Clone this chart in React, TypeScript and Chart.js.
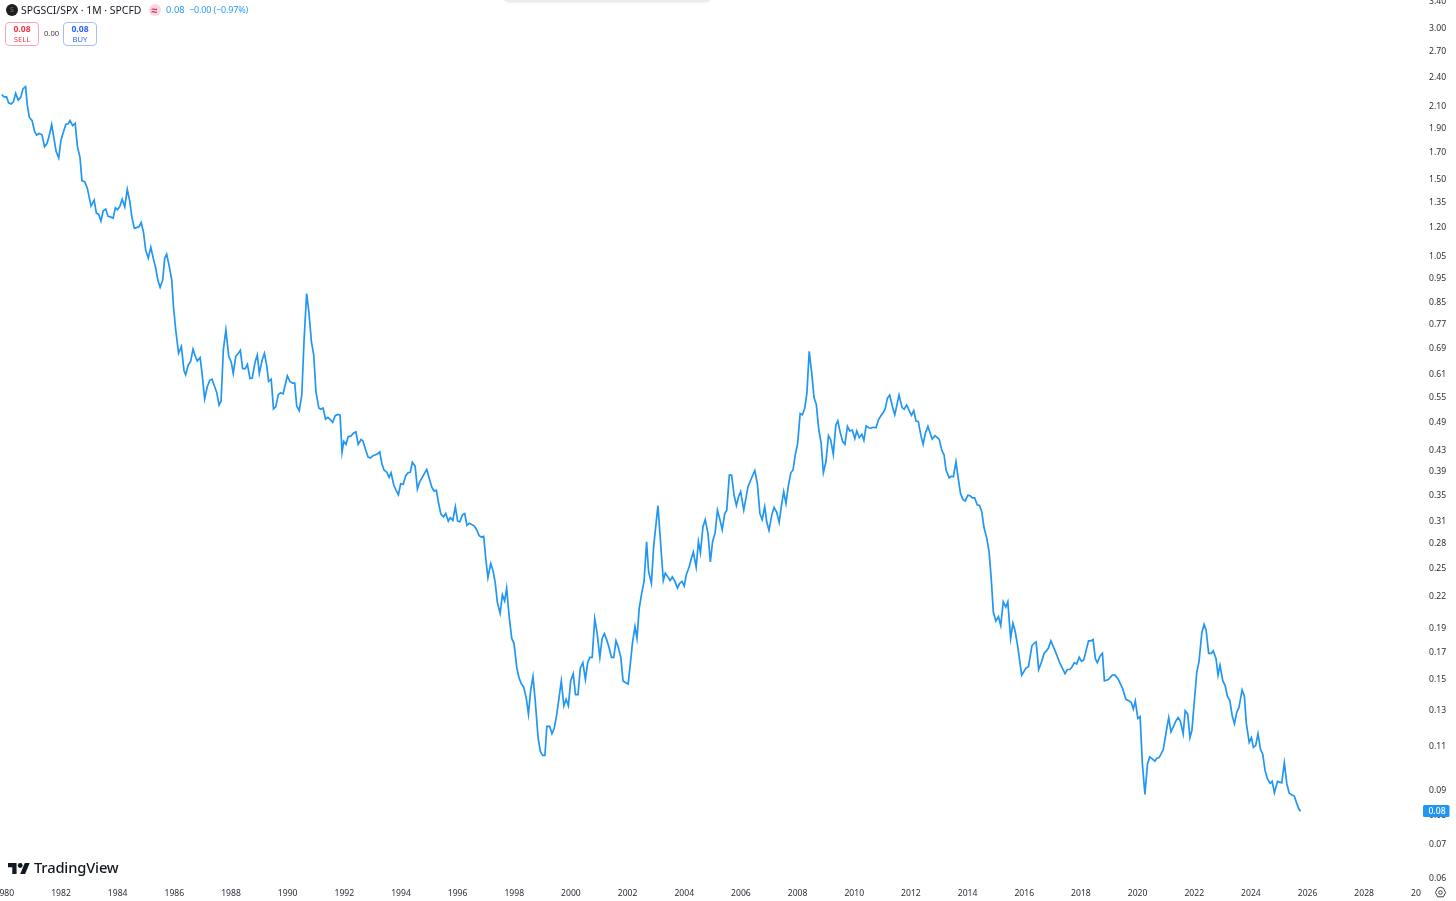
import React, { useEffect, useRef } from "react";
import { Chart, registerables } from "chart.js";

Chart.register(...registerables);

const years1 = [
  1979.91,1979.99,1980.08,1980.15,1980.24,1980.32,1980.40,1980.49,1980.58,1980.66,
  1980.75,1980.81,1980.88,1980.98,1981.07,1981.14,1981.23,1981.33,1981.42,1981.51,
  1981.59,1981.67,1981.75,1981.83,1981.92,1982.00,1982.08,1982.17,1982.25,1982.32,
  1982.41,1982.50,1982.58,1982.67,1982.74,1982.84,1982.93,1983.06,1983.17,1983.25,
  1983.33,1983.41,1983.49,1983.58,1983.66,1983.75,1983.84,1983.92,1984.00,1984.08,
  1984.16,1984.25,1984.34,1984.43,1984.50,1984.59,1984.68,1984.76,1984.83,1984.91,
  1984.99,1985.08,1985.17,1985.26,1985.34,1985.42,1985.50,1985.59,1985.66,1985.73,
  1985.82,1985.91,1985.97,1986.05,1986.15,1986.25,1986.34,1986.40,1986.49,1986.58,
];
const ratio1 = [
  2.202,2.18,2.18,2.12,2.11,2.13,2.216,2.148,2.176,2.264,
  2.285,2.10,1.985,1.953,1.856,1.828,1.842,1.83,1.733,1.76,
  1.828,1.919,1.80,1.694,1.645,1.787,1.85,1.919,1.925,1.955,
  1.91,1.93,1.733,1.65,1.48,1.475,1.43,1.318,1.355,1.275,
  1.27,1.23,1.29,1.30,1.257,1.254,1.246,1.308,1.296,1.318,
  1.36,1.313,1.424,1.345,1.254,1.19,1.195,1.20,1.222,1.17,
  1.076,1.037,1.09,1.035,0.992,0.937,0.907,0.937,1.035,1.056,
  1.00,0.937,0.829,0.745,0.669,0.69,0.619,0.606,0.633,0.646,
];

const years2 = [
  1986.66,1986.74,1986.81,1986.91,1986.98,1987.07,1987.16,1987.25,1987.33,1987.41,
  1987.50,1987.58,1987.65,1987.73,1987.82,1987.92,1988.01,1988.08,1988.17,1988.26,
  1988.33,1988.41,1988.50,1988.58,1988.67,1988.75,1988.85,1988.93,1989.00,1989.10,
  1989.18,1989.26,1989.33,1989.42,1989.50,1989.58,1989.67,1989.75,1989.84,1989.91,
  1989.99,1990.08,1990.17,1990.25,1990.32,1990.41,1990.50,1990.58,1990.67,1990.75,
  1990.84,1990.92,1991.00,1991.10,1991.17,1991.25,1991.34,1991.42,1991.51,1991.59,
  1991.68,1991.77,1991.85,1991.92,1991.98,1992.06,1992.14,1992.23,1992.32,1992.41,
  1992.49,1992.59,1992.66,1992.74,1992.84,1992.92,1993.00,1993.08,1993.17,1993.25,
  1993.33,1993.40,1993.50,1993.58,1993.65,1993.75,1993.83,1993.91,1993.99,1994.08,
  1994.17,1994.25,1994.33,1994.40,1994.50,1994.58,1994.66,1994.74,1994.83,1994.91,
];
const ratio2 = [
  0.682,0.66,0.646,0.656,0.61,0.542,0.573,0.591,0.594,0.577,
  0.558,0.527,0.537,0.679,0.745,0.661,0.642,0.61,0.66,0.669,
  0.678,0.624,0.623,0.636,0.596,0.597,0.642,0.664,0.61,0.648,
  0.669,0.633,0.588,0.594,0.518,0.523,0.553,0.558,0.555,0.577,
  0.603,0.588,0.583,0.583,0.525,0.514,0.553,0.711,0.881,0.81,
  0.705,0.664,0.56,0.52,0.517,0.52,0.494,0.498,0.493,0.487,
  0.502,0.505,0.504,0.424,0.446,0.44,0.456,0.457,0.463,0.466,
  0.44,0.45,0.447,0.431,0.415,0.413,0.417,0.419,0.421,0.425,
  0.402,0.391,0.387,0.378,0.386,0.364,0.356,0.349,0.367,0.366,
  0.381,0.386,0.387,0.405,0.398,0.358,0.37,0.377,0.385,0.392,
];

const years3 = [
  1995.00,1995.09,1995.17,1995.25,1995.33,1995.41,1995.50,1995.58,1995.67,1995.74,
  1995.83,1995.92,1996.00,1996.08,1996.17,1996.25,1996.33,1996.41,1996.51,1996.59,
  1996.67,1996.76,1996.84,1996.92,1997.00,1997.07,1997.17,1997.25,1997.33,1997.40,
  1997.50,1997.58,1997.66,1997.73,1997.82,1997.91,1997.99,1998.09,1998.17,1998.25,
  1998.33,1998.42,1998.50,1998.58,1998.66,1998.74,1998.84,1998.92,1999.00,1999.08,
  1999.15,1999.25,1999.33,1999.41,1999.50,1999.58,1999.66,1999.75,1999.83,1999.91,
  1999.99,2000.08,2000.16,2000.25,2000.33,2000.42,2000.51,2000.59,2000.67,2000.75,
  2000.84,2000.92,2001.02,2001.10,2001.18,2001.26,2001.34,2001.43,2001.51,2001.59,
  2001.67,2001.76,2001.84,2001.92,2002.02,2002.10,2002.17,2002.26,2002.33,2002.41,
  2002.50,2002.58,2002.67,2002.74,2002.84,2002.92,2003.07,2003.26,2003.33,2003.42,
  2003.50,2003.58,2003.67,2003.76,2003.84,2003.92,2004.00,2004.07,2004.17,2004.25,
  2004.32,2004.42,2004.50,2004.57,2004.66,2004.74,2004.84,2004.92,2005.00,2005.09,
  2005.17,2005.26,
];
const ratio3 = [
  0.376,0.361,0.355,0.356,0.335,0.319,0.315,0.32,0.309,0.314,
  0.31,0.33,0.309,0.308,0.318,0.32,0.303,0.306,0.304,0.302,
  0.297,0.289,0.287,0.288,0.258,0.238,0.254,0.246,0.232,0.213,
  0.202,0.22,0.214,0.227,0.199,0.18,0.176,0.157,0.15,0.146,
  0.144,0.137,0.127,0.142,0.151,0.135,0.114,0.107,0.105,0.105,
  0.12,0.12,0.116,0.119,0.127,0.137,0.148,0.132,0.136,0.132,
  0.148,0.153,0.139,0.139,0.157,0.161,0.149,0.161,0.165,0.165,
  0.197,0.185,0.165,0.18,0.184,0.179,0.173,0.165,0.165,0.178,
  0.173,0.165,0.148,0.147,0.146,0.161,0.176,0.19,0.18,0.207,
  0.222,0.234,0.281,0.245,0.232,0.275,0.332,0.235,0.243,0.239,
  0.235,0.239,0.234,0.227,0.232,0.234,0.229,0.241,0.25,0.26,
  0.268,0.25,0.281,0.267,0.301,0.311,0.291,0.256,0.281,0.293,
  0.325,0.311,
];

const years4 = [
  2005.34,2005.43,2005.50,2005.59,2005.67,2005.76,2005.84,2005.92,2005.99,2006.10,
  2006.25,2006.42,2006.49,2006.58,2006.67,2006.75,2006.84,2006.91,2006.99,2007.09,
  2007.17,2007.26,2007.35,2007.43,2007.51,2007.59,2007.67,2007.76,2007.84,2007.92,
  2008.00,2008.09,2008.17,2008.25,2008.33,2008.41,2008.50,2008.58,2008.66,2008.75,
  2008.83,2008.91,2009.00,2009.09,2009.17,2009.26,2009.35,2009.42,2009.50,2009.59,
  2009.67,2009.76,2009.84,2009.93,2010.02,2010.09,2010.18,2010.27,2010.34,2010.42,
  2010.51,2010.59,2010.67,2010.77,2010.85,2010.94,2011.02,2011.09,2011.17,2011.25,
  2011.35,2011.43,2011.51,2011.58,2011.69,2011.76,2011.85,2011.94,2012.02,2012.10,
  2012.18,2012.26,2012.35,2012.43,2012.51,2012.60,2012.68,2012.75,2012.85,2012.93,
  2013.00,2013.09,2013.17,2013.24,2013.35,2013.43,2013.50,2013.59,2013.68,2013.75,
  2013.84,2013.92,2014.01,2014.09,2014.17,2014.25,2014.34,2014.42,2014.50,2014.58,
  2014.68,2014.76,2014.83,2014.91,
];
const ratio4 = [
  0.297,0.32,0.325,0.382,0.382,0.348,0.332,0.346,0.354,0.325,
  0.362,0.382,0.39,0.367,0.32,0.311,0.33,0.308,0.296,0.318,
  0.329,0.322,0.307,0.332,0.354,0.335,0.362,0.386,0.391,0.42,
  0.441,0.507,0.504,0.519,0.558,0.675,0.61,0.546,0.529,0.47,
  0.443,0.386,0.406,0.458,0.449,0.42,0.481,0.49,0.466,0.446,
  0.44,0.478,0.468,0.47,0.452,0.468,0.454,0.461,0.448,0.479,
  0.475,0.474,0.476,0.475,0.492,0.502,0.509,0.518,0.544,0.552,
  0.523,0.504,0.529,0.552,0.521,0.517,0.527,0.514,0.503,0.514,
  0.49,0.489,0.459,0.44,0.463,0.478,0.463,0.451,0.458,0.454,
  0.45,0.428,0.419,0.391,0.377,0.38,0.379,0.406,0.373,0.351,
  0.341,0.339,0.348,0.347,0.344,0.344,0.333,0.332,0.323,0.30,
  0.285,0.268,0.239,0.203,
];

const years5 = [
  2015.00,2015.09,2015.17,2015.26,2015.35,2015.42,2015.52,2015.60,2015.68,2015.76,
  2015.91,2016.06,2016.15,2016.27,2016.35,2016.42,2016.51,2016.62,2016.70,2016.78,
  2016.85,2016.94,2017.09,2017.27,2017.44,2017.52,2017.61,2017.69,2017.77,2017.85,
  2017.94,2018.02,2018.10,2018.18,2018.27,2018.35,2018.43,2018.51,2018.58,2018.68,
  2018.76,2018.83,2018.97,2019.11,2019.21,2019.32,2019.47,2019.59,2019.70,2019.78,
  2019.85,2019.92,2020.01,2020.09,2020.17,2020.26,2020.35,2020.43,2020.51,2020.61,
  2020.68,2020.76,2020.84,2020.91,2021.01,2021.10,2021.18,2021.27,2021.35,2021.43,
  2021.51,2021.61,2021.68,2021.77,2021.85,2021.92,2022.01,2022.09,2022.17,2022.27,
  2022.35,2022.42,2022.51,2022.60,2022.67,2022.77,2022.84,2022.91,2023.01,2023.09,
  2023.17,2023.26,2023.34,2023.42,2023.50,2023.58,2023.69,2023.77,2023.84,2023.94,
  2024.02,2024.09,2024.17,2024.25,2024.34,2024.42,2024.50,2024.58,2024.68,2024.75,
  2024.83,2024.94,2025.09,2025.18,2025.27,2025.35,2025.45,2025.53,2025.62,2025.70,
  2025.76,
];
const ratio5 = [
  0.195,0.199,0.191,0.213,0.208,0.213,0.18,0.193,0.186,0.175,
  0.152,0.157,0.158,0.174,0.176,0.177,0.156,0.162,0.168,0.17,
  0.172,0.178,0.17,0.16,0.153,0.156,0.156,0.158,0.161,0.16,
  0.165,0.162,0.163,0.17,0.178,0.178,0.179,0.164,0.161,0.166,
  0.168,0.148,0.149,0.152,0.152,0.149,0.143,0.136,0.135,0.134,
  0.13,0.135,0.1245,0.1255,0.101,0.0878,0.101,0.1043,0.1035,0.1023,
  0.1037,0.104,0.106,0.108,0.117,0.125,0.117,0.12,0.123,0.125,
  0.123,0.116,0.129,0.127,0.114,0.118,0.136,0.154,0.162,0.185,
  0.192,0.187,0.168,0.168,0.17,0.164,0.152,0.159,0.148,0.145,
  0.138,0.135,0.126,0.1215,0.128,0.131,0.142,0.138,0.1217,0.1115,
  0.114,0.109,0.11,0.116,0.108,0.1055,0.098,0.0944,0.0923,0.0932,
  0.0884,0.0932,0.0926,0.1015,0.0921,0.0883,0.0875,0.0871,0.0842,0.0819,
  0.0813,
];

const years = [...years1, ...years2, ...years3, ...years4, ...years5];
const ratio = [...ratio1, ...ratio2, ...ratio3, ...ratio4, ...ratio5];

const xTicks = [
  1980,1982,1984,1986,1988,1990,1992,1994,1996,1998,2000,2002,2004,
  2006,2008,2010,2012,2014,2016,2018,2020,2022,2024,2026,2028,2030,
];
const priceTicks = [
  3.4,3.0,2.7,2.4,2.1,1.9,1.7,1.5,1.35,1.2,1.05,0.95,0.85,0.77,0.69,0.61,0.55,
  0.49,0.43,0.39,0.35,0.31,0.28,0.25,0.22,0.19,0.17,0.15,0.13,0.11,0.09,0.08,0.07,0.06,
];

const LINE = "#2196f3";
const FONT = '"Noto Sans", sans-serif';
const TEXT = "#2a2e39";

export default function App() {
  const ref = useRef<HTMLCanvasElement | null>(null);

  useEffect(() => {
    const badge = {
      id: "lastPrice",
      afterDraw(chart: any) {
        const { ctx, scales } = chart;
        const y = scales.y.getPixelForValue(ratio[ratio.length - 1]);
        ctx.save();
        ctx.fillStyle = "#ffffff";
        ctx.fillRect(1421, 882, 35, 19);
        ctx.fillStyle = LINE;
        ctx.beginPath();
        ctx.roundRect(1423, y - 6, 26.5, 12, 1.5);
        ctx.fill();
        ctx.fillStyle = "#ffffff";
        ctx.font = `500 8.6px ${FONT}`;
        ctx.textBaseline = "middle";
        ctx.textAlign = "center";
        ctx.fillText("0.08", 1437, y + 0.5);
        ctx.restore();
      },
    };

    const chart = new Chart(ref.current as HTMLCanvasElement, {
      type: "line",
      data: {
        datasets: [
          {
            label: "SPGSCI/SPX",
            data: years.map((x, i) => ({ x, y: ratio[i] })),
            borderColor: LINE,
            borderWidth: 1.7,
            pointRadius: 0,
            tension: 0,
            fill: false,
            yAxisID: "y",
          },
        ],
      },
      options: {
        responsive: false,
        animation: false,
        layout: { padding: 0 },
        plugins: { legend: { display: false }, tooltip: { enabled: false } },
        scales: {
          x: {
            type: "linear",
            min: 1979.847,
            max: 2030.04,
            grid: { display: false, drawTicks: false },
            border: { display: false },
            afterBuildTicks(s: any) {
              s.ticks = xTicks.map((value) => ({ value }));
            },
            afterFit(s: any) {
              s.height = 20;
              s.paddingLeft = 0;
              s.paddingRight = 0;
            },
            ticks: {
              autoSkip: false,
              maxRotation: 0,
              padding: 7,
              color: TEXT,
              font: { family: "Noto Sans", size: 8.6 },
              callback: (v: any) => String(v),
            },
          },
          y: {
            type: "logarithmic",
            display: false,
            position: "right",
            min: 0.0589,
            max: 3.405,
            bounds: "data",
          },
          priceAxis: {
            type: "logarithmic",
            position: "right",
            min: 0.0593,
            max: 3.4285,
            bounds: "data",
            grid: { display: false, drawTicks: false },
            border: { display: false },
            afterBuildTicks(s: any) {
              s.ticks = priceTicks.map((value) => ({ value }));
            },
            afterFit(s: any) {
              s.width = 34;
              s.paddingTop = 0;
              s.paddingBottom = 0;
            },
            ticks: {
              autoSkip: false,
              padding: 7,
              crossAlign: "near",
              color: TEXT,
              font: { family: "Noto Sans", size: 8.6 },
              callback: (v: any) => Number(v).toFixed(2),
            },
          },
        },
      },
      plugins: [badge],
    } as any);
    return () => chart.destroy();
  }, []);

  const abs = (o: React.CSSProperties): React.CSSProperties => ({
    position: "absolute",
    whiteSpace: "nowrap",
    fontFamily: FONT,
    ...o,
  });

  return (
    <div style={{ position: "fixed", inset: 0, background: "#fff", overflow: "hidden" }}>
      <canvas ref={ref} width={1456} height={901} style={{ position: "absolute", left: 0, top: 0 }} />

      <div style={abs({ left: 505, top: -6, width: 204, height: 7, background: "#eeeeee", borderRadius: 5, boxShadow: "0 0 3px rgba(0,0,0,0.25)" })} />

      <div style={abs({ left: 6, top: 4, width: 12, height: 12, borderRadius: 6, background: "#1e1e1e", color: "#777", fontSize: 7, lineHeight: "12px", textAlign: "center" })}>S</div>
      <div style={abs({ left: 21, top: 2, fontSize: 10.4, lineHeight: "16px", color: "#131722" })}>SPGSCI/SPX · 1M · SPCFD</div>
      <div style={abs({ left: 148.5, top: 4, width: 12, height: 12, borderRadius: 6, background: "#f9d7e0", color: "#d81e4a", fontSize: 10.5, lineHeight: "12px", textAlign: "center", fontWeight: 700 })}>≈</div>
      <div style={abs({ left: 166, top: 2, fontSize: 9.4, lineHeight: "16px", color: "#2a9df4" })}>0.08</div>
      <div style={abs({ left: 189, top: 2, fontSize: 9, letterSpacing: -0.15, lineHeight: "16px", color: "#2a9df4" })}>−0.00 (−0.97%)</div>

      <div style={abs({ left: 5, top: 22, width: 32, height: 22, border: "1px solid #f9a6b2", borderRadius: 4, textAlign: "center", color: "#f23645" })}>
        <div style={{ fontSize: 8.6, lineHeight: "11px", fontWeight: 700, marginTop: 0.5 }}>0.08</div>
        <div style={{ fontSize: 7.6, lineHeight: "9px" }}>SELL</div>
      </div>
      <div style={abs({ left: 44, top: 28, fontSize: 7.6, lineHeight: "11px", color: "#3b3f4a" })}>0.00</div>
      <div style={abs({ left: 63, top: 22, width: 32, height: 22, border: "1px solid #a5bffb", borderRadius: 4, textAlign: "center", color: "#2962ff" })}>
        <div style={{ fontSize: 8.6, lineHeight: "11px", fontWeight: 700, marginTop: 0.5 }}>0.08</div>
        <div style={{ fontSize: 7.6, lineHeight: "9px" }}>BUY</div>
      </div>

      <svg style={{ position: "absolute", left: 8, top: 861.5 }} width={22} height={13} viewBox="0 4 36 18" preserveAspectRatio="xMidYMid meet">
        <path d="M14 22H7V11H0V4h14v18zM28 22h-8l7.5-18h8L28 22z" fill="#131722" />
        <circle cx="20" cy="8" r="4" fill="#131722" />
      </svg>
      <div style={abs({ left: 34, top: 858, fontSize: 14.7, lineHeight: "19px", fontWeight: 500, letterSpacing: -0.15, color: "#131722" })}>TradingView</div>

      <svg style={{ position: "absolute", left: 1434, top: 886 }} width={13} height={13} viewBox="0 0 13 13">
        <path d="M6.5 1.2 L9.3 2.2 L11.6 6.5 L9.3 10.8 L3.7 10.8 L1.4 6.5 L3.7 2.2 Z" fill="none" stroke="#2a2e39" strokeWidth="0.9" />
        <circle cx="6.5" cy="6.5" r="1.8" fill="none" stroke="#2a2e39" strokeWidth="0.9" />
      </svg>
    </div>
  );
}
